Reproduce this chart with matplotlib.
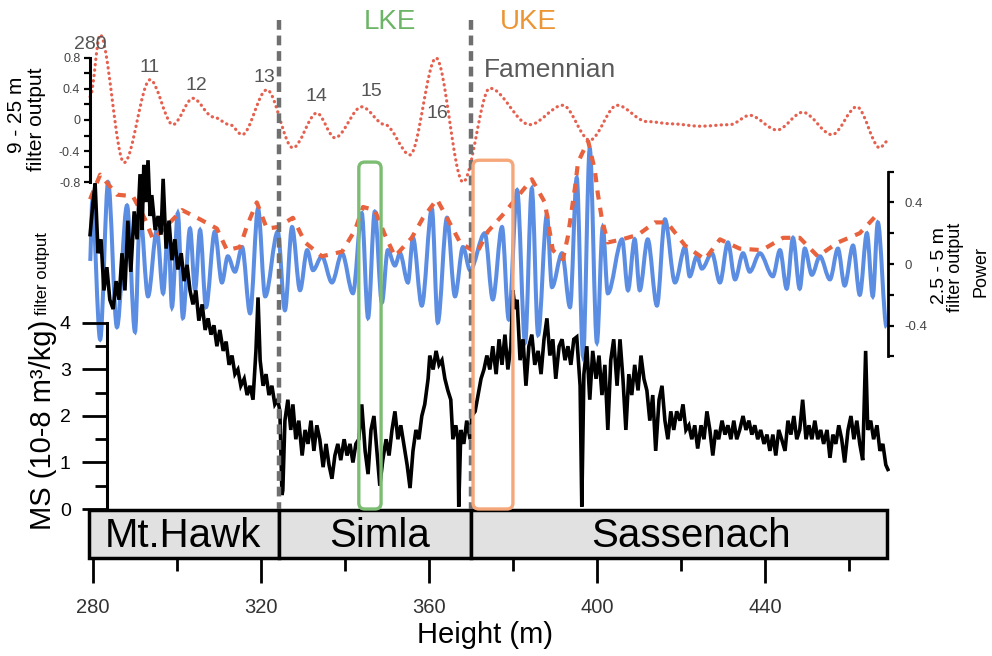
import matplotlib.pyplot as plt
from matplotlib.patches import FancyBboxPatch, PathPatch
from matplotlib.lines import Line2D
from matplotlib.path import Path
from matplotlib import transforms

plt.rcParams['font.family'] = ['Liberation Sans', 'DejaVu Sans']

# 9 - 25 m filter output (top panel)
long_height = [279.3, 281.7, 287.4, 293.6, 299.0, 303.8, 308.6, 312.6, 315.5, 321.4,
               327.6, 333.3, 337.6, 344.0, 349.5, 355.5, 361.7, 368.1, 374.5,
               384.0, 391.9, 398.3, 404.8, 411.9, 418.0, 424.5, 431.7, 436.4, 442.9,
               449.0, 456.0, 461.9, 467.4, 469.0]
long_value = [0.30, 1.10, -0.55, 0.52, -0.06, 0.28, 0.04, -0.06, -0.19, 0.39,
              -0.36, 0.09, -0.23, 0.17, -0.06, -0.45, 0.80, -0.80, 0.41,
              -0.06, 0.19, -0.26, 0.19, -0.02, -0.05, -0.08, -0.06, 0.06, -0.13,
              0.10, -0.19, 0.17, -0.36, -0.28]

# 2.5 - 5 m filter output (middle panel)
short_height = [279.3, 279.8, 281.7, 283.6, 285.7, 288.1, 290.0, 291.2, 293.1, 295.2,
                296.7, 297.9, 298.8, 300.2, 301.4, 303.1, 304.3, 305.5, 306.9, 309.0,
                310.7, 312.1, 313.8, 315.5, 317.4, 319.3, 321.0, 324.0, 325.7, 327.4,
                329.3, 331.0, 332.4, 334.5, 336.9, 339.3, 341.9, 344.0, 345.5, 347.1,
                348.8, 350.2, 351.9, 353.1, 355.0, 356.2, 358.3, 360.7, 362.1, 364.3,
                366.2, 368.1, 369.8, 373.3, 375.2, 377.4, 379.0, 381.0, 382.9, 384.5,
                386.0, 388.1, 389.3, 391.7, 393.6, 395.2, 396.7, 398.3, 400.0, 401.4,
                402.6, 406.0, 407.4, 409.0, 410.2, 412.1, 414.3, 416.2, 418.6, 421.0,
                422.1, 423.8, 425.0, 427.4, 429.3, 431.2, 432.9, 434.8, 436.4, 438.8,
                441.9, 443.6, 445.2, 446.7, 448.3, 449.5, 451.2, 453.1, 455.5, 457.4,
                459.0, 461.0, 462.6, 464.3, 465.7, 466.9, 469.0]
short_value = [0.02, 0.40, -0.49, 0.53, -0.41, 0.38, -0.44, 0.33, -0.21, 0.22,
               -0.19, 0.24, -0.28, 0.33, -0.35, 0.23, -0.17, 0.22, -0.28, 0.21,
               -0.12, 0.05, -0.05, 0.11, -0.32, 0.36, -0.21, 0.21, -0.30, 0.24,
               -0.17, 0.09, -0.04, 0.05, -0.12, 0.07, -0.19, 0.33, -0.35, 0.34,
               -0.25, 0.09, -0.01, 0.07, -0.12, 0.17, -0.27, 0.36, -0.38, 0.30,
               -0.21, 0.11, -0.04, 0.20, -0.23, 0.24, -0.36, 0.48, -0.51, 0.49,
               -0.46, 0.32, -0.15, 0.07, -0.28, 0.56, -0.60, 0.75, -0.51, 0.24,
               -0.19, 0.16, -0.17, 0.16, -0.17, 0.16, -0.27, 0.29, -0.12, 0.11,
               -0.08, 0.05, -0.03, 0.07, -0.12, 0.14, -0.10, 0.07, -0.05, 0.07,
               -0.08, 0.09, -0.16, 0.17, -0.16, 0.10, -0.07, 0.05, -0.10, 0.10,
               -0.14, 0.12, -0.20, 0.20, -0.21, 0.27, -0.41]

# power envelope (dashed)
power_height = [279.3, 281.7, 285.7, 289.5, 292.4, 294.3, 297.6, 301.2, 305.5, 309.5,
                311.9, 315.0, 316.7, 319.0, 321.4, 324.0, 327.6, 330.5, 334.5, 339.3,
                342.4, 344.3, 347.1, 349.5, 351.9, 355.9, 358.6, 361.9, 364.5, 367.4,
                371.4, 374.0, 377.6, 384.5, 387.6, 389.5, 391.9, 393.1, 394.0, 394.8,
                395.5, 397.9, 399.5, 400.2, 401.2, 402.6, 406.0, 409.8, 413.8, 416.7,
                421.0, 425.7, 429.3, 434.0, 439.3, 444.3, 448.3, 452.6, 457.4, 462.6,
                466.7]
power_value = [0.42, 0.58, 0.45, 0.44, 0.29, 0.16, 0.25, 0.35, 0.29, 0.23,
               0.09, 0.11, 0.25, 0.40, 0.23, 0.24, 0.30, 0.14, 0.05, 0.08,
               0.22, 0.37, 0.35, 0.19, 0.05, 0.17, 0.30, 0.42, 0.29, 0.14,
               0.07, 0.21, 0.32, 0.55, 0.40, 0.09, 0.03, 0.18, 0.35, 0.50,
               0.66, 0.80, 0.61, 0.46, 0.29, 0.14, 0.16, 0.19, 0.27, 0.27,
               0.12, 0.03, 0.16, 0.10, 0.09, 0.17, 0.17, 0.05, 0.14, 0.20,
               0.32]

# magnetic susceptibility
ms_height = [279.3, 280.0, 280.5, 281.2, 281.9, 282.6, 283.3, 284.0, 284.8, 285.5,
             286.2, 286.9, 287.6, 288.3, 289.0, 289.8, 290.5, 291.2, 291.7, 292.1,
             292.6, 293.1, 293.6, 294.0, 294.8, 295.5, 296.2, 296.7, 297.4, 298.1,
             298.8, 299.5, 300.2, 301.0, 301.7, 302.4, 303.1, 303.8, 304.5, 305.2,
             306.0, 306.7, 307.4, 308.1, 308.8, 309.5, 310.2, 311.0, 311.7, 312.4,
             313.1, 313.8, 314.5, 315.2, 316.0, 316.7, 317.4, 318.1, 318.8, 319.3,
             319.8, 320.5, 321.2, 321.9, 322.6, 323.3, 324.0, 324.5, 325.0, 325.2,
             325.7, 326.4, 327.1, 327.6, 328.3, 329.0, 329.8, 330.5, 331.2, 331.9,
             332.6, 333.3, 334.0, 334.8, 335.5, 336.2, 336.9, 337.6, 338.3, 339.0,
             339.8, 340.5, 341.2, 341.9, 342.6, 343.3, 344.0, 344.8, 345.5, 346.2,
             346.9, 347.6, 348.3, 349.0, 349.8, 350.5, 351.2, 351.9, 352.6, 353.3,
             354.0, 354.8, 355.5, 356.2, 356.9, 357.6, 358.3, 359.0, 359.8, 360.2,
             361.0, 361.7, 362.4, 363.1, 363.8, 364.5, 365.2, 365.7, 366.4, 366.9,
             367.1, 367.6, 368.3, 369.0, 369.8, 370.2, 371.0, 371.7, 372.4, 373.1,
             373.8, 374.5, 375.2, 376.0, 376.7, 377.4, 378.1, 378.8, 379.5, 380.0,
             380.5, 381.0, 381.7, 382.4, 383.1, 383.8, 384.5, 385.2, 386.0, 386.7,
             387.4, 388.1, 388.8, 389.5, 390.2, 391.0, 391.7, 392.4, 393.1, 393.8,
             394.5, 395.2, 396.0, 396.4, 396.9, 397.6, 398.3, 399.0, 399.8, 400.5,
             401.2, 401.9, 402.6, 403.3, 404.0, 404.8, 405.5, 406.2, 406.9, 407.6,
             408.3, 409.0, 409.8, 410.5, 411.2, 411.9, 412.6, 413.3, 414.0, 414.8,
             415.5, 416.2, 416.9, 417.6, 418.3, 419.0, 419.8, 420.5, 421.2, 421.9,
             422.6, 423.3, 424.0, 424.8, 425.5, 426.2, 426.9, 427.6, 428.3, 429.0,
             429.8, 430.5, 431.2, 431.9, 432.6, 433.3, 434.0, 434.8, 435.5, 436.2,
             436.9, 437.6, 438.3, 439.0, 439.8, 440.5, 441.2, 441.9, 442.6, 443.3,
             444.0, 444.8, 445.5, 446.2, 446.9, 447.6, 448.3, 449.0, 449.8, 450.5,
             451.2, 451.9, 452.6, 453.3, 454.0, 454.8, 455.5, 456.2, 456.9, 457.6,
             458.3, 459.0, 459.8, 460.5, 461.2, 461.9, 462.6, 463.3, 464.0, 464.5,
             465.2, 465.9, 466.7, 467.4, 468.1, 468.8, 469.3]
ms_value = [5.9, 6.6, 7.0, 5.5, 5.8, 4.7, 5.2, 4.5, 4.3, 4.9,
            4.5, 5.5, 4.7, 6.2, 5.1, 6.4, 5.8, 7.2, 6.0, 7.4,
            6.6, 7.5, 6.3, 6.75, 6.0, 6.3, 5.9, 7.1, 5.6, 6.2,
            5.35, 5.8, 5.15, 5.5, 4.9, 5.25, 4.7, 4.4, 4.7, 4.05,
            4.4, 3.85, 4.1, 3.75, 3.95, 3.5, 3.85, 3.4, 3.6, 3.1,
            3.3, 2.9, 3.0, 2.65, 2.8, 2.45, 2.65, 2.35, 3.4, 4.55,
            3.2, 2.65, 2.9, 2.45, 2.65, 2.25, 2.35, 2.1, 0.3, 0.4,
            1.9, 2.35, 1.7, 2.25, 1.5, 1.9, 1.15, 1.7, 1.4, 1.9,
            1.25, 1.8, 1.5, 0.9, 1.4, 0.95, 0.65, 1.15, 1.4, 1.05,
            1.5, 1.15, 1.4, 1.0, 1.4, 1.5, 2.25, 1.25, 0.75, 1.7,
            2.0, 1.25, 0.5, 1.05, 1.5, 1.15, 1.7, 2.1, 1.5, 1.8,
            1.4, 0.95, 0.45, 1.25, 1.7, 1.5, 2.0, 2.25, 2.8, 3.3,
            3.0, 3.4, 3.1, 3.2, 2.8, 2.55, 2.35, 1.5, 1.8, 1.5,
            0.05, 1.7, 1.4, 1.9, 1.5, 2.0, 2.1, 2.45, 2.8, 3.0,
            3.3, 3.0, 3.5, 2.9, 3.65, 3.1, 3.75, 3.0, 3.5, 4.7,
            4.3, 4.5, 3.2, 3.65, 2.65, 3.5, 3.75, 3.1, 3.4, 2.9,
            3.65, 4.1, 3.3, 3.65, 2.8, 3.5, 3.65, 3.2, 3.5, 3.1,
            3.65, 3.7, 2.65, 0.05, 2.9, 3.5, 2.35, 3.4, 2.8, 3.3,
            2.45, 3.1, 1.7, 3.2, 3.65, 2.65, 3.65, 2.8, 1.7, 2.9,
            2.45, 3.1, 2.55, 3.3, 2.8, 2.55, 1.9, 2.45, 1.25, 2.35,
            2.65, 1.9, 1.5, 2.1, 1.7, 2.1, 1.9, 2.25, 1.7, 1.8,
            1.5, 1.8, 1.3, 1.8, 1.5, 2.1, 1.7, 1.15, 1.7, 1.5,
            1.9, 1.6, 1.8, 1.5, 1.9, 1.5, 1.7, 2.0, 1.7, 1.9,
            1.6, 1.8, 1.5, 1.7, 1.4, 1.6, 1.25, 1.6, 1.15, 1.7,
            1.5, 1.25, 1.9, 1.6, 2.0, 1.5, 1.7, 2.35, 1.5, 1.8,
            1.5, 1.9, 1.5, 1.7, 1.4, 1.7, 1.1, 1.6, 1.4, 1.8,
            1.5, 1.0, 1.7, 2.0, 1.5, 1.9, 1.4, 1.05, 3.4, 1.7,
            1.9, 1.5, 1.8, 1.25, 1.4, 0.95, 0.85]

# cycle numbers on the 9 - 25 m curve
cycle_labels = ['280', '11', '12', '13', '14', '15', '16']
cycle_height = [279.3, 293.6, 304.5, 320.9, 333.1, 346.2, 361.9]
cycle_value = [0.97, 0.68, 0.45, 0.55, 0.30, 0.365, 0.09]

formations = ['Mt.Hawk', 'Simla', 'Sassenach']
formation_start = [279.0, 324.4, 370.1]
formation_end = [324.4, 370.1, 469.0]
formation_label_x = [301.5, 348.3, 422.4]
boundaries = [324.4, 370.1]

events = ['LKE', 'UKE']
event_start = [343.3, 370.5]
event_end = [348.6, 380.0]
event_top = [7.46, 7.5]
event_colors = ['#7cbd73', '#f5a77a']
event_text_colors = ['#6cb567', '#ec9535']
event_text_x = [350.7, 383.6]

W, H = 992, 656
XLIM = (276.9, 469.8)


def box(top, bottom, left=80, right=890):
    return [left / W, 1 - bottom / H, (right - left) / W, (bottom - top) / H]


def smooth_line(ax, xs, ys, **kw):
    # cubic segments with flat tangents at each reading (peaks / troughs)
    verts = [(xs[0], ys[0])]
    codes = [Path.MOVETO]
    for i in range(1, len(xs)):
        dx = (xs[i] - xs[i - 1]) / 3
        verts += [(xs[i - 1] + dx, ys[i - 1]), (xs[i] - dx, ys[i]), (xs[i], ys[i])]
        codes += [Path.CURVE4] * 3
    ax.add_patch(PathPatch(Path(verts, codes), fill=False, **kw))


fig = plt.figure(figsize=(W / 100, H / 100), dpi=100)

ax_top = fig.add_axes(box(20, 200))
ax_mid = fig.add_axes(box(140, 370))
ax_ms = fig.add_axes(box(150, 509))
ax_bar = fig.add_axes(box(510, 558))

for ax in (ax_top, ax_mid, ax_ms, ax_bar):
    ax.set_xlim(*XLIM)
    ax.patch.set_visible(False)
    for s in ax.spines.values():
        s.set_visible(False)
    ax.set_xticks([])

# top panel
ax_top.set_ylim(-1.032, 1.29)
smooth_line(ax_top, long_height, long_value, edgecolor='#e5604f', lw=2.3,
            linestyle=(0, (0.1, 1.6)), capstyle='round')
ax_top.spines['left'].set_visible(True)
ax_top.spines['left'].set_position(('data', 279.3))
ax_top.spines['left'].set_bounds(-0.8, 0.8)
ax_top.spines['left'].set_linewidth(2.2)
ax_top.set_yticks([-0.8, -0.4, 0, 0.4, 0.8])
ax_top.set_yticklabels(['-0.8', '-0.4', '0', '0.4', '0.8'])
ax_top.set_yticks([-0.6, -0.2, 0.2, 0.6], minor=True)
ax_top.tick_params(axis='y', which='both', length=4, width=1.6, labelsize=9,
                   labelcolor='#444444', pad=3)
for lab, h, v in zip(cycle_labels, cycle_height, cycle_value):
    ax_top.text(h, v, lab, ha='center', va='center', fontsize=14, color='#555555',
                clip_on=False)
for ev, x, c in zip(events, event_text_x, event_text_colors):
    ax_top.text(x, 1.26, ev, ha='center', va='center', fontsize=20, color=c)
ax_top.text(388.8, 0.645, 'Famennian', ha='center', va='center', fontsize=19,
            color='#5a5a5a')

# middle panel
ax_mid.set_ylim(-0.688, 0.805)
smooth_line(ax_mid, short_height, short_value, edgecolor='#5b8ee3', lw=2.9)
ax_mid.plot(power_height, power_value, color='#e8623e', lw=3, ls=(0, (2.2, 2.0)))
ax_mid.yaxis.tick_right()
ax_mid.spines['right'].set_visible(True)
ax_mid.spines['right'].set_position(('data', 469.3))
ax_mid.spines['right'].set_bounds(-0.6, 0.6)
ax_mid.spines['right'].set_linewidth(2)
ax_mid.set_yticks([-0.6, -0.4, -0.2, 0, 0.2, 0.4, 0.6])
ax_mid.set_yticklabels(['', '-0.4', '', '0', '', '0.4', ''])
ax_mid.tick_params(axis='y', length=4, width=1.6, labelsize=9.5, labelcolor='#444444',
                   pad=8)

# MS panel
ax_ms.set_ylim(0, 7.72)
ax_ms.plot(ms_height, ms_value, color='black', lw=2.6, solid_joinstyle='miter')
ax_ms.spines['left'].set_visible(True)
ax_ms.spines['left'].set_position(('data', 283.3))
ax_ms.spines['left'].set_bounds(0, 4)
ax_ms.spines['left'].set_linewidth(2.2)
ax_ms.set_yticks([0, 1, 2, 3, 4])
ax_ms.set_yticks([0.5, 1.5, 2.5, 3.5], minor=True)
ax_ms.tick_params(axis='y', which='major', length=18, width=2, labelsize=14, pad=8)
ax_ms.tick_params(axis='y', which='minor', length=9, width=2)

# formation bar
ax_bar.set_ylim(0, 1)
ax_bar.set_yticks([])
ax_bar.barh([0.5] * 3, [e - s for s, e in zip(formation_start, formation_end)],
            left=formation_start, height=1, color='#e1e1e1', edgecolor='black', lw=2.5,
            clip_on=False)
for name, x in zip(formations, formation_label_x):
    ax_bar.text(x, 0.46, name, ha='center', va='center', fontsize=29)
ax_bar.set_xticks([280, 320, 360, 400, 440])
ax_bar.set_xticks([300, 340, 380, 420, 460], minor=True)
ax_bar.tick_params(axis='x', which='major', length=18, width=2, labelsize=14.5,
                   labelcolor='#333333', pad=11)
ax_bar.tick_params(axis='x', which='minor', length=9, width=2)
ax_bar.set_xlabel('Height (m)', fontsize=21, labelpad=3)

# boundary dashed lines
trans = transforms.blended_transform_factory(ax_ms.transData, fig.transFigure)
for b in boundaries:
    fig.add_artist(Line2D([b, b], [1 - 20 / H, 1 - 509 / H], transform=trans,
                          color='#6f6f6f', lw=3.2, dashes=(2.2, 1.3), zorder=5))

# event boxes
for s, e, top, c in zip(event_start, event_end, event_top, event_colors):
    (x0, y0), (x1, y1) = ax_ms.transData.transform([(s, 0), (e, top)])
    fig.add_artist(FancyBboxPatch((x0, y0), x1 - x0, y1 - y0,
                                  boxstyle='round,pad=0,rounding_size=6',
                                  transform=transforms.IdentityTransform(),
                                  fill=False, edgecolor=c, lw=2.4, zorder=6))

# axis labels
fig.text(17 / W, 1 - 115 / H, '9 - 25 m', rotation=90, ha='center', va='center',
         fontsize=15)
fig.text(37 / W, 1 - 119 / H, 'filter output', rotation=90, ha='center', va='center',
         fontsize=15)
fig.text(42 / W, 1 - 274 / H, 'filter output', rotation=90, ha='center', va='center',
         fontsize=12)
fig.text(43 / W, 1 - 425 / H, 'MS (10-8 m\u00b3/kg)', rotation=90, ha='center',
         va='center', fontsize=21)
fig.text(940 / W, 1 - 266 / H, '2.5 - 5 m', rotation=90, ha='center', va='center',
         fontsize=14)
fig.text(956 / W, 1 - 267 / H, 'filter output', rotation=90, ha='center', va='center',
         fontsize=13)
fig.text(981 / W, 1 - 272 / H, 'Power', rotation=90, ha='center', va='center',
         fontsize=13)

fig.savefig('out.png', dpi=100)
